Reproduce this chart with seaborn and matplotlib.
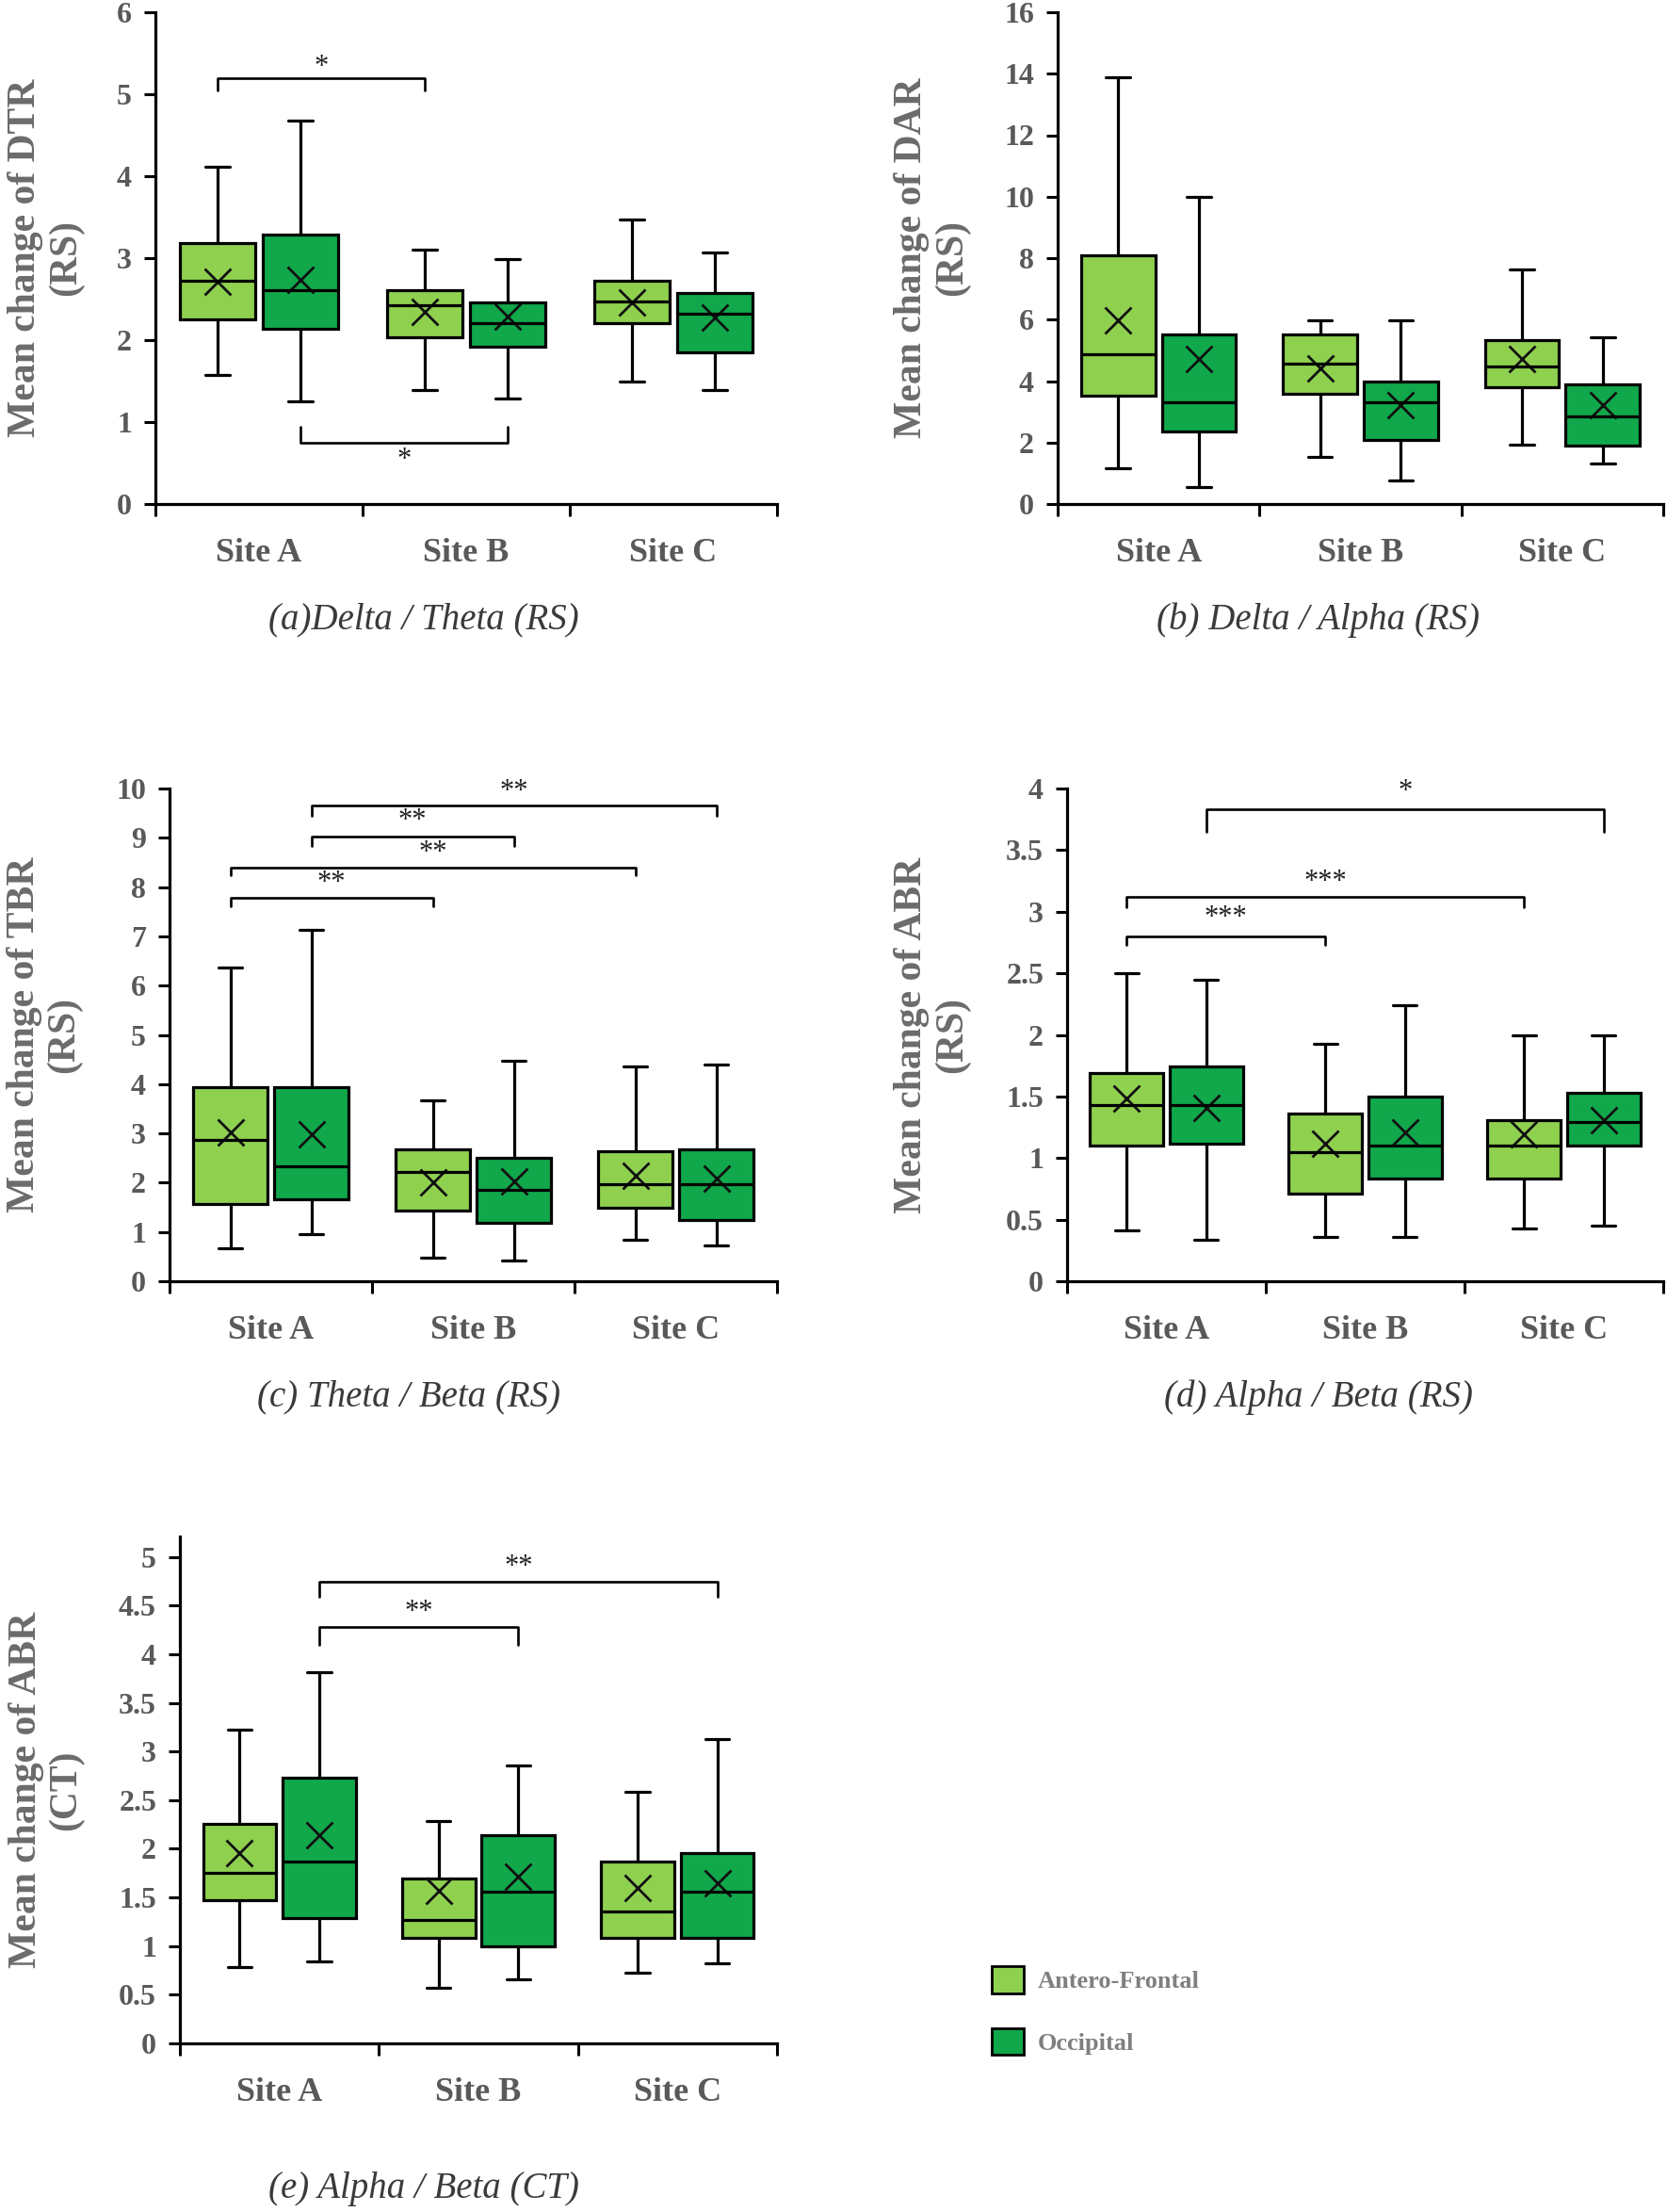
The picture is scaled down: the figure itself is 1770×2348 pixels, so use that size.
import numpy as np
import pandas as pd
import matplotlib
matplotlib.use("Agg")
import matplotlib.pyplot as plt
import seaborn as sns
from matplotlib.patches import Patch
from matplotlib.ticker import MultipleLocator, FuncFormatter, FixedLocator

# ---------------- data ----------------
sites = ["Site A", "Site B", "Site C"]
regions = ["Antero-Frontal", "Occipital"]
# every list below is ordered: A-AF, A-Occ, B-AF, B-Occ, C-AF, C-Occ

# (a) Delta / Theta (RS)
dtr_low = [1.57, 1.25, 1.39, 1.29, 1.49, 1.39]
dtr_q1 = [2.25, 2.14, 2.03, 1.92, 2.21, 1.85]
dtr_med = [2.72, 2.61, 2.43, 2.21, 2.47, 2.32]
dtr_q3 = [3.18, 3.29, 2.61, 2.46, 2.72, 2.57]
dtr_high = [4.11, 4.68, 3.10, 2.99, 3.47, 3.07]
dtr_mean = [2.71, 2.73, 2.35, 2.29, 2.46, 2.28]

# (b) Delta / Alpha (RS)
dar_low = [1.16, 0.56, 1.52, 0.77, 1.92, 1.33]
dar_q1 = [3.53, 2.37, 3.60, 2.08, 3.80, 1.89]
dar_med = [4.86, 3.32, 4.58, 3.32, 4.47, 2.85]
dar_q3 = [8.08, 5.51, 5.51, 3.98, 5.34, 3.90]
dar_high = [13.9, 10.0, 5.99, 5.99, 7.62, 5.42]
dar_mean = [5.99, 4.72, 4.42, 3.23, 4.73, 3.23]

# (c) Theta / Beta (RS)
tbr_low = [0.66, 0.96, 0.48, 0.42, 0.84, 0.72]
tbr_q1 = [1.56, 1.67, 1.43, 1.19, 1.50, 1.25]
tbr_med = [2.86, 2.33, 2.21, 1.86, 1.97, 1.97]
tbr_q3 = [3.93, 3.93, 2.68, 2.50, 2.63, 2.68]
tbr_high = [6.37, 7.14, 3.68, 4.47, 4.35, 4.40]
tbr_mean = [3.02, 2.99, 2.01, 2.03, 2.15, 2.08]

# (d) Alpha / Beta (RS)
abr_rs_low = [0.41, 0.34, 0.36, 0.36, 0.43, 0.45]
abr_rs_q1 = [1.10, 1.12, 0.71, 0.83, 0.83, 1.10]
abr_rs_med = [1.43, 1.43, 1.05, 1.10, 1.10, 1.29]
abr_rs_q3 = [1.69, 1.74, 1.36, 1.50, 1.31, 1.53]
abr_rs_high = [2.50, 2.45, 1.93, 2.24, 2.00, 2.00]
abr_rs_mean = [1.48, 1.41, 1.12, 1.21, 1.19, 1.31]

# (e) Alpha / Beta (CT)
abr_ct_low = [0.78, 0.84, 0.57, 0.66, 0.73, 0.82]
abr_ct_q1 = [1.47, 1.29, 1.08, 1.00, 1.08, 1.08]
abr_ct_med = [1.75, 1.87, 1.27, 1.56, 1.36, 1.56]
abr_ct_q3 = [2.26, 2.73, 1.69, 2.14, 1.87, 1.96]
abr_ct_high = [3.22, 3.82, 2.29, 2.86, 2.59, 3.13]
abr_ct_mean = [1.96, 2.14, 1.57, 1.71, 1.60, 1.65]

# significance brackets: (site_i, region_i, site_j, region_j, y_bar, y_leg_end, label, y_label)
dtr_sig = [(0, 0, 1, 0, 5.20, 5.05, "*", 5.33),
           (0, 1, 1, 1, 0.75, 0.94, "*", 0.53)]
dar_sig = []
tbr_sig = [(0, 1, 2, 1, 9.66, 9.44, "**", 9.94),
           (0, 1, 1, 1, 9.03, 8.84, "**", 9.34),
           (0, 0, 2, 0, 8.39, 8.24, "**", 8.69),
           (0, 0, 1, 0, 7.79, 7.61, "**", 8.08)]
abr_rs_sig = [(0, 1, 2, 1, 3.83, 3.65, "*", 3.97),
              (0, 0, 2, 0, 3.12, 3.04, "***", 3.24),
              (0, 0, 1, 0, 2.80, 2.73, "***", 2.95)]
abr_ct_sig = [(0, 1, 2, 1, 4.75, 4.59, "**", 4.90),
              (0, 1, 1, 1, 4.28, 4.10, "**", 4.43)]

# ---------------- style ----------------
LIGHT = "#8FD14F"
DARK = "#10A84B"
TICK_GREY = "#595959"
LABEL_GREY = "#6b6b6b"

sns.set_style("ticks")
plt.rcParams["font.family"] = ["Liberation Serif", "DejaVu Serif"]

W, H = 1770, 2348
fig = plt.figure(figsize=(W / 100, H / 100), dpi=100)


def px_rect(x0, x1, ytop, ybot):
    return [x0 / W, 1 - ybot / H, (x1 - x0) / W, (ybot - ytop) / H]


panels = [
    dict(stats=(dtr_low, dtr_q1, dtr_med, dtr_q3, dtr_high), mean=dtr_mean, sig=dtr_sig,
         rect=px_rect(165, 825, 13, 535), ylim=6, step=1, lab_x=-0.176,
         ylabel="Mean change of DTR\n(RS)", caption="(a)Delta / Theta (RS)", cap_xy=(450, 658)),
    dict(stats=(dar_low, dar_q1, dar_med, dar_q3, dar_high), mean=dar_mean, sig=dar_sig,
         rect=px_rect(1123, 1766, 13, 535), ylim=16, step=2, lab_x=-0.208,
         ylabel="Mean change of DAR\n(RS)", caption="(b) Delta / Alpha (RS)", cap_xy=(1400, 658)),
    dict(stats=(tbr_low, tbr_q1, tbr_med, tbr_q3, tbr_high), mean=tbr_mean, sig=tbr_sig,
         rect=px_rect(180, 825, 837, 1360), ylim=10, step=1, lab_x=-0.206,
         ylabel="Mean change of TBR\n(RS)", caption="(c) Theta / Beta (RS)", cap_xy=(434, 1483)),
    dict(stats=(abr_rs_low, abr_rs_q1, abr_rs_med, abr_rs_q3, abr_rs_high), mean=abr_rs_mean,
         sig=abr_rs_sig, rect=px_rect(1133, 1766, 837, 1360), ylim=4, step=0.5, lab_x=-0.227,
         ylabel="Mean change of ABR\n(RS)", caption="(d) Alpha / Beta (RS)", cap_xy=(1400, 1483)),
    dict(stats=(abr_ct_low, abr_ct_q1, abr_ct_med, abr_ct_q3, abr_ct_high), mean=abr_ct_mean,
         sig=abr_ct_sig, rect=px_rect(191, 825, 1631, 2169), ylim=5.21, step=0.5, lab_x=-0.224,
         ylabel="Mean change of ABR\n(CT)", caption="(e) Alpha / Beta (CT)", cap_xy=(450, 2324)),
]

pairs = [(s, r) for s in sites for r in regions]
OFFSET = {0: -0.2, 1: 0.2}

for p in panels:
    ax = fig.add_axes(p["rect"])
    rows = []
    for k, (s, r) in enumerate(pairs):
        for arr in p["stats"]:
            rows.append({"site": s, "region": r, "value": arr[k]})
    df = pd.DataFrame(rows)
    mdf = pd.DataFrame({"site": [s for s, _ in pairs], "region": [r for _, r in pairs],
                        "mean": p["mean"]})

    sns.boxplot(data=df, x="site", y="value", hue="region", order=sites, hue_order=regions,
                palette=[LIGHT, DARK], saturation=1, whis=(0, 100), width=0.8, gap=0.08,
                linecolor="black", linewidth=2.3, fliersize=0, legend=False, ax=ax,
                capwidths=0.12)
    sns.pointplot(data=mdf, x="site", y="mean", hue="region", order=sites, hue_order=regions,
                  palette=["#111111", "#111111"], markers="x", linestyles="none", dodge=0.4,
                  errorbar=None, legend=False, ax=ax, markersize=20, markeredgewidth=2.0)

    for (si, ri, sj, rj, yb, yl, lab, yt) in p["sig"]:
        x1 = si + OFFSET[ri]
        x2 = sj + OFFSET[rj]
        ax.plot([x1, x1, x2, x2], [yl, yb, yb, yl], color="black", lw=1.9, clip_on=False)
        ax.text((x1 + x2) / 2, yt, lab, ha="center", va="center", fontsize=22,
                color="#222222")

    ax.set_xlim(-0.5, 2.5)
    ax.set_ylim(0, p["ylim"])
    ax.yaxis.set_major_locator(MultipleLocator(p["step"]))
    ax.yaxis.set_major_formatter(FuncFormatter(lambda v, pos: f"{v:g}"))
    ax.set_xticks([0, 1, 2])
    ax.set_xticklabels(sites)
    ax.xaxis.set_minor_locator(FixedLocator([-0.5, 0.5, 1.5, 2.5]))
    ax.tick_params(axis="x", which="major", length=0, pad=26, labelsize=26,
                   labelcolor=TICK_GREY)
    ax.tick_params(axis="x", which="minor", length=9.5, width=2.2, direction="out",
                   color="black")
    ax.tick_params(axis="y", which="major", length=9, width=2.2, direction="out", pad=9,
                   labelsize=23, labelcolor=TICK_GREY, color="black")
    for lab in ax.get_xticklabels() + ax.get_yticklabels():
        lab.set_fontweight("bold")
    ax.set_xlabel("")
    ax.set_ylabel(p["ylabel"], fontsize=30, fontweight="bold", color=LABEL_GREY,
                  linespacing=1.15, va="center")
    ax.yaxis.set_label_coords(p["lab_x"], 0.5)
    sns.despine(ax=ax)
    for sp in ("left", "bottom"):
        ax.spines[sp].set_linewidth(2.3)
        ax.spines[sp].set_color("black")

    cx, cy = p["cap_xy"]
    fig.text(cx / W, 1 - cy / H, p["caption"], ha="center", va="center", fontsize=28,
             style="italic", color="#3a3a3a")

handles = [Patch(facecolor=LIGHT, edgecolor="black", linewidth=2.0, label=regions[0]),
           Patch(facecolor=DARK, edgecolor="black", linewidth=2.0, label=regions[1])]
fig.legend(handles=handles, loc="upper left", bbox_to_anchor=(1053 / W, 1 - 2087 / H),
           frameon=False, prop={"size": 19, "weight": "bold"}, labelcolor="#7f7f7f",
           handlelength=1.29, handleheight=1.29, labelspacing=1.4, handletextpad=0.57,
           borderpad=0, borderaxespad=0)

fig.savefig("out.png", dpi=100, facecolor="white")
